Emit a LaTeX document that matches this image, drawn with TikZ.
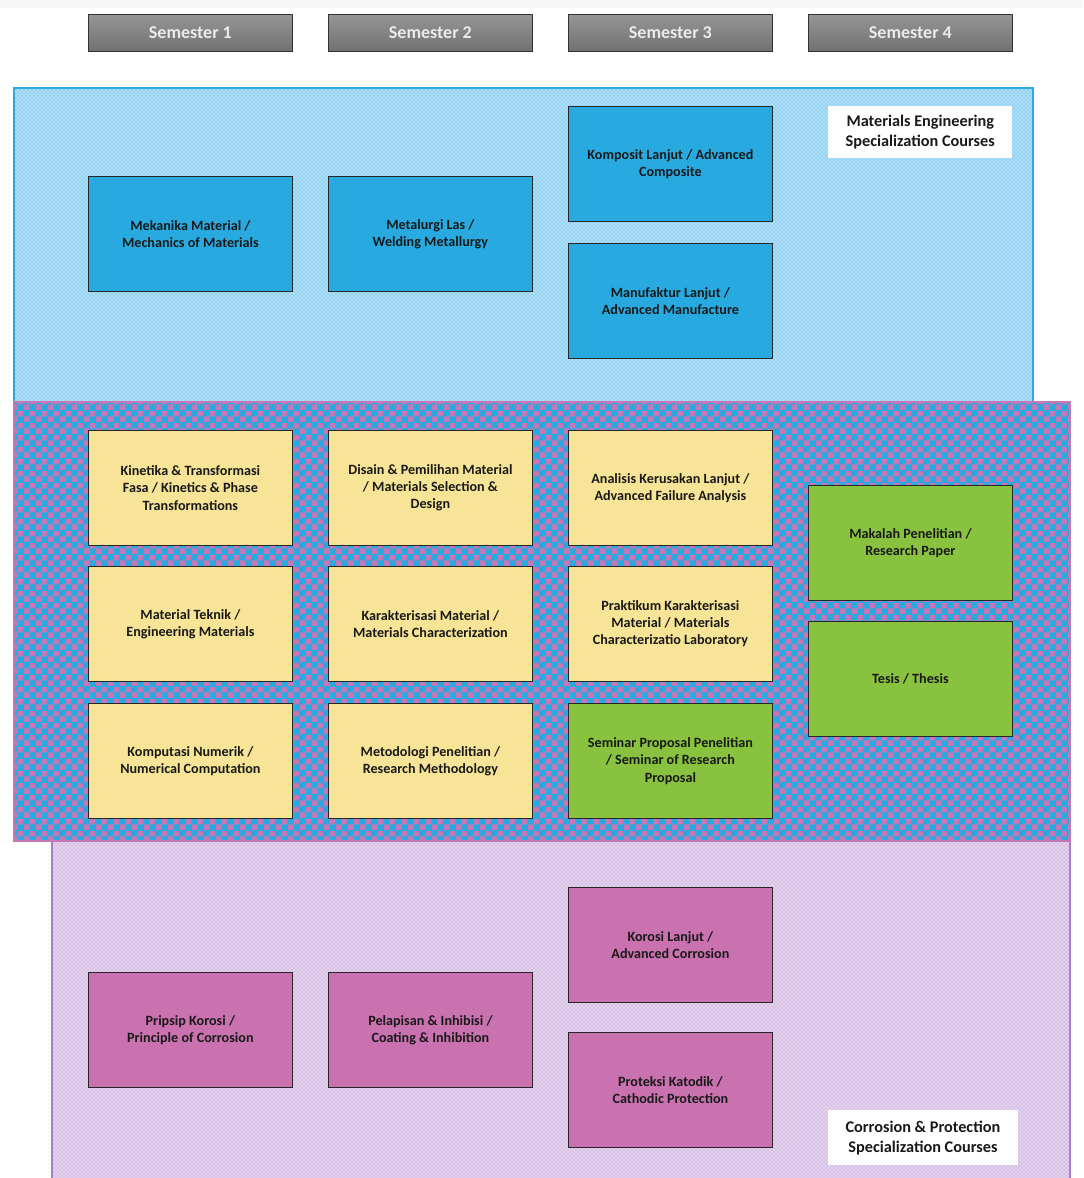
\documentclass[tikz,border=0pt]{standalone}
\usepackage{fontspec}
\setmainfont{Carlito}
\usepackage{xcolor}
\usepackage{tikz}
\usetikzlibrary{patterns,patterns.meta}

\definecolor{hdrtop}{RGB}{150,150,150}
\definecolor{hdrbot}{RGB}{112,112,112}
\definecolor{hdrtxt}{RGB}{235,235,235}
\definecolor{mblue}{RGB}{40,170,225}
\definecolor{myellow}{RGB}{248,228,150}
\definecolor{mgreen}{RGB}{136,194,62}
\definecolor{mpink}{RGB}{202,114,176}
\definecolor{zoneblue}{RGB}{178,222,246}
\definecolor{zonebluedot}{RGB}{40,170,228}
\definecolor{zonelila}{RGB}{228,212,238}
\definecolor{zoneliladot}{RGB}{170,125,200}
\definecolor{chkpink}{RGB}{196,120,182}

\tikzdeclarepattern{
  name=bigchecker,
  type=uncolored,
  bottom left={(0pt,0pt)},
  top right={(9pt,9pt)},
  tile size={(9pt,9pt)},
  code={
    \fill (0pt,0pt) rectangle (4.5pt,4.5pt);
    \fill (4.5pt,4.5pt) rectangle (9pt,9pt);
  }
}

\tikzset{
  semhdr/.style={draw=black!80, line width=0.6pt, top color=hdrtop, bottom color=hdrbot,
    minimum width=153pt, minimum height=27.75pt, inner sep=0pt, anchor=north west,
    text=hdrtxt, font=\fontsize{13.5}{15}\selectfont\bfseries},
  course/.style={draw=black!85, line width=0.6pt, minimum width=153pt, minimum height=86.5pt,
    inner sep=2pt, anchor=north west, align=center,
    font=\fontsize{10.6}{12.8}\selectfont\bfseries, text=black!90},
  bluebox/.style={course, fill=mblue},
  yelbox/.style={course, fill=myellow},
  grnbox/.style={course, fill=mgreen},
  pinkbox/.style={course, fill=mpink},
  tagbox/.style={fill=white, inner sep=0pt, anchor=north west, align=center,
    font=\fontsize{12.2}{15}\selectfont\bfseries, text=black!90}
}

\begin{document}
\begin{tikzpicture}[x=0.75pt,y=0.75pt,yscale=-1,xscale=1]
\useasboundingbox (0,0) rectangle (1083,1178);
\fill[black!3] (0,0) rectangle (1083,8);

% specialization zones
\fill[zoneblue] (14,88) rectangle (1033,402);
\fill[pattern=crosshatch dots, pattern color=zonebluedot] (14,88) rectangle (1033,402);
\draw[zonebluedot, line width=1.2pt] (14,88) rectangle (1033,402);

\fill[zonelila] (52,841) rectangle (1070,1178);
\fill[pattern=crosshatch dots, pattern color=zoneliladot] (52,841) rectangle (1070,1178);
\draw[zoneliladot, line width=1.2pt] (52,1178) -- (52,841) -- (1070,841) -- (1070,1178);

\fill[mblue] (14,402) rectangle (1070,841);
\fill[pattern=bigchecker, pattern color=chkpink] (14,402) rectangle (1070,841);
\draw[chkpink, line width=1.2pt] (14,402) rectangle (1070,841);

% semester headers
\node (sem1) [semhdr] at (88,14) {Semester 1};
\node (sem2) [semhdr] at (328,14) {Semester 2};
\node (sem3) [semhdr] at (568,14) {Semester 3};
\node (sem4) [semhdr] at (808,14) {Semester 4};

% materials engineering
\node (mekanika) [bluebox] at (88,176) {Mekanika Material /\\Mechanics of Materials};
\node (metalurgi) [bluebox] at (328,176) {Metalurgi Las /\\Welding Metallurgy};
\node (komposit) [bluebox] at (568,106) {Komposit Lanjut / Advanced\\Composite};
\node (manufaktur) [bluebox] at (568,243) {Manufaktur Lanjut /\\Advanced Manufacture};
\node (tagmat) [tagbox, minimum width=138pt, minimum height=39pt] at (828,106) {Materials Engineering\\Specialization Courses};

% core courses
\node (kinetika) [yelbox] at (88,430) {Kinetika \& Transformasi\\Fasa / Kinetics \& Phase\\Transformations};
\node (disain) [yelbox] at (328,430) {Disain \& Pemilihan Material\\/ Materials Selection \&\\Design};
\node (analisis) [yelbox] at (568,430) {Analisis Kerusakan Lanjut /\\Advanced Failure Analysis};
\node (matteknik) [yelbox] at (88,566) {Material Teknik /\\Engineering Materials};
\node (karakter) [yelbox] at (328,566) {Karakterisasi Material /\\Materials Characterization};
\node (praktikum) [yelbox] at (568,566) {Praktikum Karakterisasi\\Material / Materials\\Characterizatio Laboratory};
\node (komputasi) [yelbox] at (88,703) {Komputasi Numerik /\\Numerical Computation};
\node (metodologi) [yelbox] at (328,703) {Metodologi Penelitian /\\Research Methodology};
\node (seminar) [grnbox] at (568,703) {Seminar Proposal Penelitian\\/ Seminar of Research\\Proposal};
\node (makalah) [grnbox] at (808,485) {Makalah Penelitian /\\Research Paper};
\node (tesis) [grnbox] at (808,621) {Tesis / Thesis};

% corrosion & protection
\node (korosi) [pinkbox] at (568,887) {Korosi Lanjut /\\Advanced Corrosion};
\node (proteksi) [pinkbox] at (568,1032) {Proteksi Katodik /\\Cathodic Protection};
\node (pripsip) [pinkbox] at (88,972) {Pripsip Korosi /\\Principle of Corrosion};
\node (pelapisan) [pinkbox] at (328,972) {Pelapisan \& Inhibisi /\\Coating \& Inhibition};
\node (tagkor) [tagbox, minimum width=142pt, minimum height=41pt] at (828,1110) {Corrosion \& Protection\\Specialization Courses};
\end{tikzpicture}
\end{document}
